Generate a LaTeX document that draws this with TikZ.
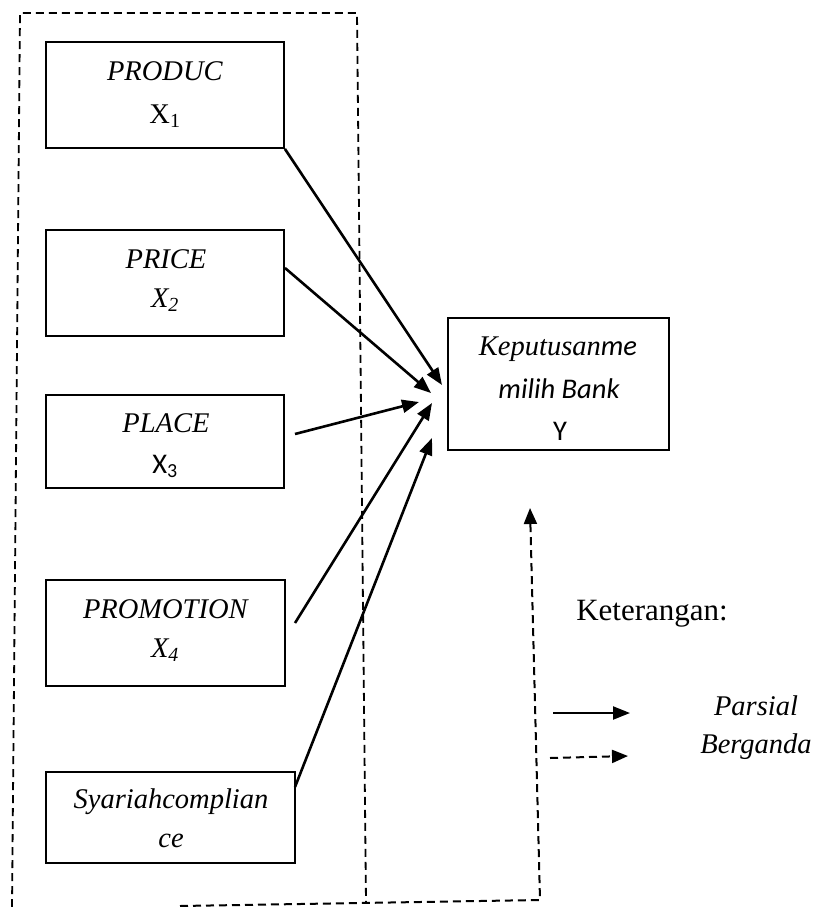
\documentclass[tikz,border=0pt]{standalone}
\usepackage{fontspec}
\setmainfont{Liberation Serif}
\newfontfamily\calfont{Carlito}
\usetikzlibrary{arrows.meta}
\begin{document}
\begin{tikzpicture}[x=1pt,y=-1pt,
  varbox/.style={draw, line width=1.8pt, inner sep=0pt},
  lbl/.style={anchor=base, inner sep=0pt, font=\fontsize{28.5}{34}\selectfont},
  causal/.style={line width=2.6pt, -{Triangle[length=17pt,width=13pt]}},
  frame/.style={line width=1.8pt, dash pattern=on 8pt off 5pt},
  dashedarrow/.style={line width=2pt, dash pattern=on 8pt off 5pt, -{Triangle[length=16pt,width=13pt]}}]
\useasboundingbox (0,0) rectangle (822,907);

% boxes
\node[varbox, minimum width=238pt, minimum height=106pt] (b1) at (165,95) {};
\node[varbox, minimum width=238pt, minimum height=106pt] (b2) at (165,283) {};
\node[varbox, minimum width=238pt, minimum height=93pt] (b3) at (165,441.5) {};
\node[varbox, minimum width=239pt, minimum height=106pt] (b4) at (165.5,633) {};
\node[varbox, minimum width=249pt, minimum height=91pt] (b5) at (170.5,817.5) {};
\node[varbox, minimum width=221pt, minimum height=132pt] (by) at (558.5,384) {};

% box texts
\node[lbl] (t1a) at (165,80) {\textit{PRODUC}};
\node[lbl] (t1b) at (165,123) {X\textsubscript{1}};
\node[lbl] (t2a) at (166,268) {\textit{PRICE}};
\node[lbl] (t2b) at (165,307) {\textit{X\textsubscript{2}}};
\node[lbl] (t3a) at (166,432) {\textit{PLACE}};
\node[lbl] (t3b) at (165,473) {\calfont X\textsubscript{3}};
\node[lbl] (t4a) at (166,618) {\textit{PROMOTION}};
\node[lbl] (t4b) at (165,657) {\textit{X\textsubscript{4}}};
\node[lbl] (t5a) at (171,808) {\textit{Syariahcomplian}};
\node[lbl] (t5b) at (171,847) {\textit{ce}};
\node[lbl] (tya) at (558,355) {\textit{Keputusan{\calfont me}}};
\node[lbl] (tyb) at (559,398) {\calfont\itshape milih Bank};
\node[lbl] (tyc) at (560,440) {\calfont Y};

% legend texts
\node[lbl, font=\fontsize{31}{36}\selectfont] (ket) at (652,620) {Keterangan:};
\node[lbl] (par) at (756,715) {\textit{Parsial}};
\node[lbl] (ber) at (756,753) {\textit{Berganda}};

% arrow coordinates
\coordinate (s2) at (285,268);
\coordinate (s3) at (295,434);
\coordinate (s4) at (295,623);
\coordinate (s5) at (295,787);
\coordinate (e1) at (442,385);
\coordinate (e2) at (431,393);
\coordinate (e3) at (419,402);
\coordinate (e4) at (432,403);
\coordinate (e5) at (432,438);

\draw[causal] (b1.south east) -- (e1);
\draw[causal] (s2) -- (e2);
\draw[causal] (s3) -- (e3);
\draw[causal] (s4) -- (e4);
\draw[causal] (s5) -- (e5);

% dashed frame
\coordinate (f1) at (12,907);
\coordinate (f2) at (20,13);
\coordinate (f3) at (357,13);
\coordinate (f4) at (366,903);
\draw[frame] (f1) -- (f2) -- (f3) -- (f4);
\coordinate (g1) at (180,906);
\coordinate (g2) at (540,900);
\coordinate (g3) at (530,508);
\draw[dashedarrow] (g1) -- (g2) -- (g3);

% legend arrows
\coordinate (l1) at (553,713);
\coordinate (l2) at (630,713);
\coordinate (l3) at (550,758);
\coordinate (l4) at (628,756);
\draw[causal, line width=2.2pt] (l1) -- (l2);
\draw[dashedarrow] (l3) -- (l4);
\end{tikzpicture}
\end{document}
